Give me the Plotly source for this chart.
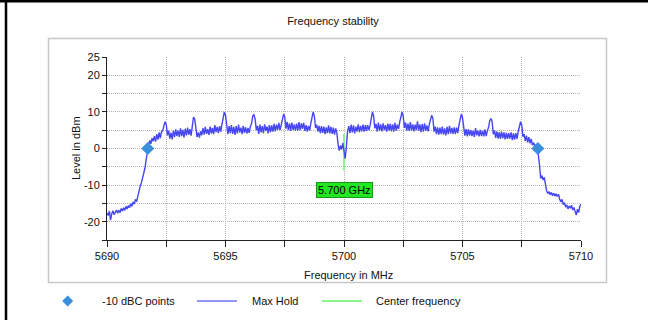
import numpy as np
import plotly.graph_objects as go

# ---------------- data ----------------
freq_start = 5690.0
freq_step = 0.05  # MHz between sweep points

# Max Hold level (dBm), one row per MHz (20 sweep points each)
r5690 = [-17.6, -18.3, -17.1, -19.6, -17.8, -17.0, -18.1, -17.4, -16.8, -17.7, -16.9, -17.5, -16.4, -17.1, -16.2, -16.9, -15.8, -16.5, -15.6, -16.2]
r5691 = [-15.1, -15.8, -14.6, -15.2, -13.9, -14.5, -12.8, -12.2, -10.3, -9.4, -8.1, -6.9, -5.4, -3.2, -0.9, 0.6, 2.2, 1.3, 2.8, 2.0]
r5692 = [3.4, 1.9, 3.9, 2.4, 4.4, 2.8, 4.6, 4.9, 6.2, 7.3, 6.6, 3.6, 4.9, 2.7, 4.3, 2.5, 4.8, 3.1, 5.2, 3.4]
r5693 = [4.9, 3.2, 5.5, 3.4, 5.1, 3.0, 5.4, 3.6, 5.7, 3.7, 5.3, 3.5, 6.1, 8.6, 8.0, 6.0, 3.1, 4.4, 3.0, 4.7]
r5694 = [3.6, 5.6, 3.8, 5.9, 4.0, 5.3, 3.7, 6.0, 4.1, 5.6, 3.9, 6.4, 4.5, 5.9, 4.2, 6.1, 4.6, 6.6, 8.9, 10.0]
r5695 = [9.1, 6.2, 3.9, 6.1, 4.2, 6.4, 4.0, 5.9, 3.7, 6.1, 4.1, 6.5, 4.4, 5.7, 3.9, 6.2, 4.3, 5.8, 4.1, 5.6]
r5696 = [4.3, 6.0, 6.8, 8.9, 9.2, 8.0, 5.0, 6.2, 4.0, 6.5, 4.4, 6.1, 4.2, 6.6, 4.8, 6.0, 4.1, 6.4, 4.5, 6.3]
r5697 = [4.6, 6.7, 4.7, 6.5, 5.1, 7.0, 5.0, 6.4, 8.3, 9.4, 8.6, 5.4, 7.3, 5.0, 6.9, 4.8, 7.1, 5.1, 6.6, 4.9]
r5698 = [6.8, 4.9, 7.2, 5.0, 6.9, 5.4, 7.0, 4.8, 6.4, 4.6, 6.2, 4.9, 6.9, 9.0, 10.0, 8.8, 5.6, 6.5, 4.6, 6.2]
r5699 = [4.2, 6.1, 4.3, 6.0, 3.9, 5.8, 4.2, 6.3, 4.1, 5.9, 4.0, 5.7, 3.8, 5.5, 4.2, 1.2, -0.6, 0.8, -0.3, 1.5]
r5700 = [-1.0, -2.8, 0.5, 4.6, 6.1, 4.2, 6.5, 4.4, 6.3, 4.1, 6.0, 4.6, 6.6, 4.5, 6.2, 4.7, 6.5, 4.6, 6.4, 4.8]
r5701 = [6.4, 5.0, 6.3, 9.0, 10.0, 8.9, 5.5, 6.7, 4.6, 7.1, 4.8, 6.6, 4.7, 6.9, 5.0, 6.4, 4.6, 6.8, 4.9, 6.7]
r5702 = [4.7, 6.6, 4.6, 7.0, 4.9, 6.5, 5.3, 7.2, 9.1, 10.0, 8.7, 5.6, 7.1, 4.9, 6.8, 4.8, 7.2, 4.9, 6.6, 4.7]
r5703 = [6.5, 5.0, 7.4, 4.9, 6.6, 4.5, 6.7, 4.6, 6.9, 4.8, 6.3, 4.7, 6.6, 8.4, 9.1, 8.2, 4.6, 6.0, 3.9, 5.8]
r5704 = [3.8, 5.7, 3.9, 6.0, 3.8, 5.5, 3.6, 5.9, 3.9, 6.2, 4.1, 5.6, 4.0, 5.8, 3.9, 5.7, 4.2, 6.4, 8.5, 9.4]
r5705 = [8.4, 5.6, 3.5, 5.3, 3.3, 5.2, 3.5, 5.0, 3.4, 4.9, 3.2, 5.6, 3.6, 4.9, 3.3, 5.1, 3.4, 4.8, 3.3, 5.2]
r5706 = [3.4, 4.9, 5.8, 7.6, 8.2, 7.4, 3.9, 4.9, 2.9, 4.7, 2.7, 4.5, 2.6, 4.6, 2.8, 4.4, 2.5, 4.3, 2.6, 4.2]
r5707 = [2.7, 4.4, 2.3, 4.1, 2.4, 4.2, 2.6, 4.6, 6.5, 7.3, 6.4, 3.2, 3.9, 2.0, 3.5, 1.7, 3.1, 1.4, 2.6, 0.9]
r5708 = [1.6, 0.6, 1.0, -0.2, -1.8, -4.5, -8.2, -7.4, -8.6, -7.9, -9.9, -11.6, -12.3, -11.8, -12.6, -12.0, -12.9, -12.2, -13.0, -12.4]
r5709 = [-13.1, -12.5, -13.8, -14.6, -13.9, -15.3, -14.8, -16.0, -15.4, -16.5, -15.7, -16.3, -15.5, -16.8, -16.1, -17.4, -18.2, -16.6, -17.5, -15.8]
r5710 = [-15.2]

max_hold = (r5690 + r5691 + r5692 + r5693 + r5694 + r5695 + r5696 + r5697 + r5698 + r5699
            + r5700 + r5701 + r5702 + r5703 + r5704 + r5705 + r5706 + r5707 + r5708 + r5709 + r5710)
freq = np.round(freq_start + freq_step * np.arange(len(max_hold)), 2)

dbc_freq = [5691.72, 5708.18]
dbc_level = [0.0, 0.0]

center_freq = [5700.0, 5700.0]
center_level = [4.0, -6.0]
center_label = "5.700 GHz"
center_label_level = -11.3

x_tickvals = [5690, 5692.5, 5695, 5697.5, 5700, 5702.5, 5705, 5707.5, 5710]
x_ticktext = ["5690", "", "5695", "", "5700", "", "5705", "", "5710"]
y_tickvals = [-25, -20, -15, -10, -5, 0, 5, 10, 15, 20, 25]
y_ticktext = ["", "-20", "", "-10", "", "0", "", "10", "", "20", "25"]

legend_names = ["-10 dBC points", "Max Hold", "Center frequency"]

# ---------------- styling ----------------
FONT = "Liberation Sans, Arial, sans-serif"
W, H = 648, 320
ML, MR, MT, MB = 107, 67, 57, 80
PW, PH = W - ML - MR, H - MT - MB
BLUE = "#4646f2"
GREEN = "#8cf58c"
DIAMOND = "#3a8fdc"


def px(x):
    return (x - ML) / PW


def py(y):
    return (H - MB - y) / PH


fig = go.Figure()
fig.add_trace(go.Scatter(x=center_freq, y=center_level, mode="lines", name=legend_names[2],
                         line=dict(color=GREEN, width=2)))
fig.add_trace(go.Scatter(x=freq, y=max_hold, mode="lines", name=legend_names[1],
                         line=dict(color=BLUE, width=1.4)))
fig.add_trace(go.Scatter(x=dbc_freq, y=dbc_level, mode="markers", name=legend_names[0],
                         marker=dict(symbol="diamond", size=10, color=DIAMOND, line=dict(width=0))))

axis_common = dict(showline=True, linecolor="#222", linewidth=1, ticks="outside", tickcolor="#222",
                   tickwidth=1, showgrid=True, gridcolor="#b4b4b4", griddash="1px,1px", gridwidth=1,
                   zeroline=False, tickfont=dict(family=FONT, size=11, color="#111"), tickmode="array")

fig.update_layout(
    width=W, height=H, margin=dict(l=ML, r=MR, t=MT, b=MB, pad=0),
    paper_bgcolor="white", plot_bgcolor="white", showlegend=False,
    font=dict(family=FONT, size=11, color="#111"),
    title=dict(text="Frequency stability", x=px(333), xref="paper", xanchor="center",
               y=1 - 21 / H, yref="container", yanchor="middle", font=dict(family=FONT, size=11, color="#111")),
    xaxis=dict(range=[5690, 5710], tickvals=x_tickvals, ticktext=x_ticktext, ticklen=6, **axis_common),
    yaxis=dict(range=[-25, 25], tickvals=y_tickvals, ticktext=y_ticktext, ticklen=4, **axis_common),
)

shapes = []
# outer grey frame
shapes.append(dict(type="rect", xref="paper", yref="paper", x0=px(48.5), x1=px(606.5), y0=py(282.5), y1=py(38.5),
                   line=dict(color="#c8c8c8", width=1.5), fillcolor="rgba(0,0,0,0)", layer="below"))
# black page edges (top and left)
shapes.append(dict(type="line", xref="paper", yref="paper", x0=px(0), x1=px(W), y0=py(1), y1=py(1),
                   line=dict(color="black", width=3)))
shapes.append(dict(type="line", xref="paper", yref="paper", x0=px(6), x1=px(6), y0=py(0), y1=py(H),
                   line=dict(color="black", width=2.5)))
# legend symbols
ly = 301
d = 5.5
shapes.append(dict(type="path", xref="paper", yref="paper",
                   path=f"M {px(67.7 - d)} {py(ly)} L {px(67.7)} {py(ly - d)} L {px(67.7 + d)} {py(ly)} L {px(67.7)} {py(ly + d)} Z",
                   fillcolor=DIAMOND, line=dict(width=0)))
shapes.append(dict(type="line", xref="paper", yref="paper", x0=px(197), x1=px(237), y0=py(ly), y1=py(ly),
                   line=dict(color="#9494f4", width=2)))
shapes.append(dict(type="line", xref="paper", yref="paper", x0=px(322), x1=px(362), y0=py(ly), y1=py(ly),
                   line=dict(color=GREEN, width=2)))
fig.update_layout(shapes=shapes)

ann = []
ann.append(dict(text="Level in dBm", textangle=-90, xref="paper", yref="paper", x=px(75.5), y=py(148.5),
                xanchor="center", yanchor="middle", showarrow=False, font=dict(family=FONT, size=11, color="#111")))
ann.append(dict(text="Frequency in MHz", xref="paper", yref="paper", x=px(348), y=py(275),
                xanchor="center", yanchor="middle", showarrow=False, font=dict(family=FONT, size=11, color="#111")))
for name, lx in zip(legend_names, [100, 249.5, 374]):
    ann.append(dict(text=name, xref="paper", yref="paper", x=px(lx), y=py(ly), xanchor="left", yanchor="middle",
                    showarrow=False, font=dict(family=FONT, size=11, color="#111")))
ann.append(dict(text=center_label, x=center_freq[0], y=center_label_level, xref="x", yref="y",
                xanchor="center", yanchor="middle", showarrow=False, bgcolor="#22e622", bordercolor="#169a16",
                borderwidth=1, borderpad=1, font=dict(family=FONT, size=11, color="#000")))
fig.update_layout(annotations=ann)

fig.write_html("out.html", config={"displayModeBar": False},
               post_script="document.body.style.margin='0';document.body.style.overflow='hidden';")
